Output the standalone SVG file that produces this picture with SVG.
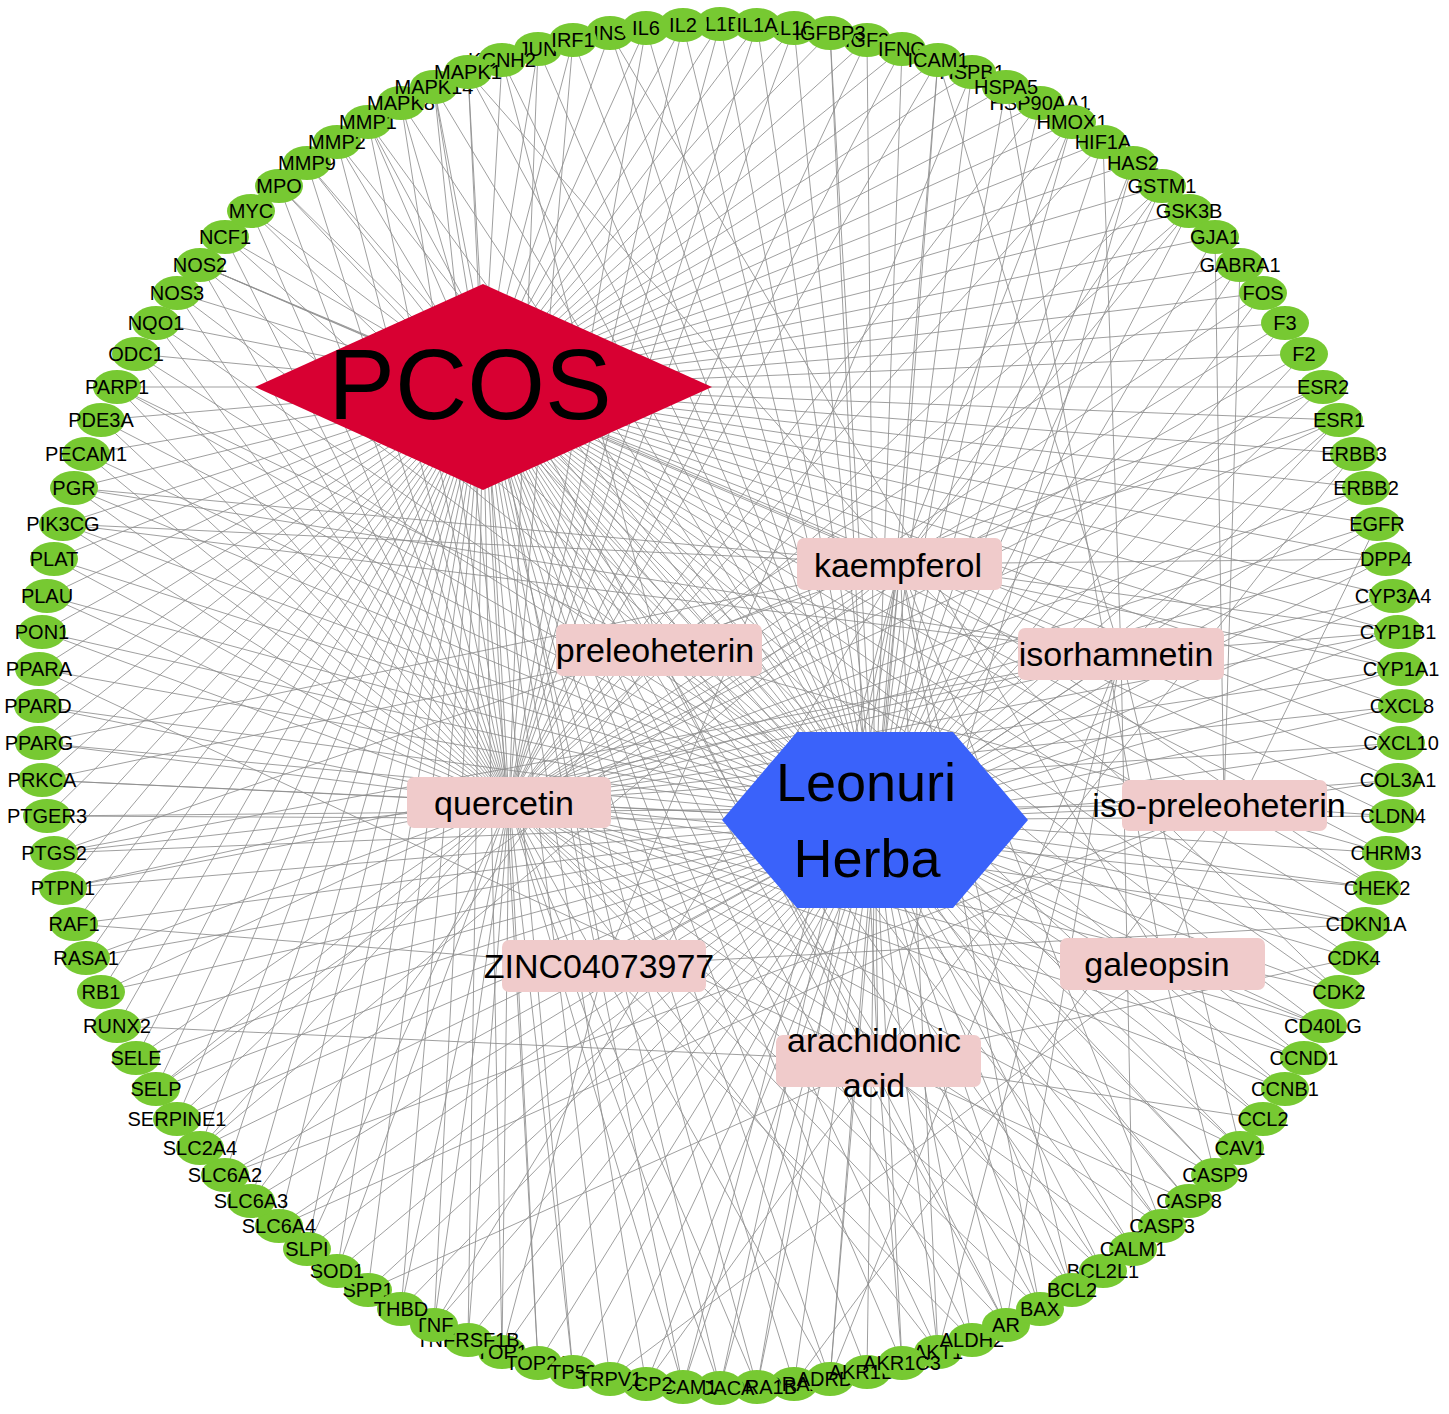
<svg xmlns="http://www.w3.org/2000/svg" width="1449" height="1414" viewBox="0 0 1449 1414">
<style>
.e{stroke:#8e8e8e;stroke-width:0.85;fill:none}
.t ellipse{fill:#77c932}
.t text{font-family:"Liberation Sans",Arial,sans-serif;font-size:20px;text-anchor:middle;fill:#000}
.c rect{fill:#f0cbcb}
.c text{font-family:"Liberation Sans",Arial,sans-serif;font-size:34px;text-anchor:middle;fill:#000}
</style>
<rect width="1449" height="1414" fill="#fff"/>
<g id="edges">
<path class="e" d="M720 1388L483 387M757 1387L483 387M794 1384L483 387M830 1379L483 387M867 1372L483 387M902 1363L483 387M938 1352L483 387M972 1340L483 387M1006 1325L483 387M1040 1309L483 387M1072 1290L483 387M1103 1271L483 387M1133 1249L483 387M1162 1226L483 387M1189 1201L483 387M1215 1175L483 387M1240 1148L483 387M1263 1119L483 387M1285 1089L483 387M1304 1058L483 387M1323 1026L483 387M1339 992L483 387M1354 958L483 387M1366 924L483 387M1377 888L483 387M1386 853L483 387M1393 816L483 387M1398 780L483 387M1401 743L483 387M1402 706L483 387M1401 669L483 387M1398 632L483 387M1393 596L483 387M1386 559L483 387M1377 524L483 387M1366 488L483 387M1354 454L483 387M1339 420L483 387M1323 387L483 387M1304 354L483 387M1285 323L483 387M1263 293L483 387M1240 265L483 387M1215 237L483 387M1189 211L483 387M1162 186L483 387M1133 163L483 387M1103 142L483 387M1072 122L483 387M1040 103L483 387M1006 87L483 387M972 72L483 387M938 60L483 387M902 49L483 387M867 40L483 387M830 33L483 387M794 28L483 387M757 25L483 387M720 24L483 387M683 25L483 387M646 28L483 387M610 33L483 387M573 40L483 387M538 49L483 387M502 60L483 387M468 72L483 387M434 87L483 387M401 103L483 387M368 122L483 387M337 142L483 387M307 163L483 387M279 186L483 387M251 211L483 387M225 237L483 387M200 265L483 387M177 293L483 387M156 323L483 387M136 354L483 387M117 387L483 387M101 420L483 387M86 454L483 387M74 488L483 387M63 524L483 387M54 559L483 387M47 596L483 387M42 632L483 387M39 669L483 387M38 706L483 387M39 743L483 387M42 780L483 387M47 816L483 387M54 853L483 387M63 888L483 387M74 924L483 387M86 958L483 387M101 992L483 387M117 1026L483 387M136 1058L483 387M156 1089L483 387M177 1119L483 387M200 1148L483 387M225 1175L483 387M251 1201L483 387M279 1226L483 387M307 1249L483 387M337 1271L483 387M368 1290L483 387M401 1309L483 387M434 1325L483 387M468 1340L483 387M502 1352L483 387M538 1363L483 387M573 1372L483 387M610 1379L483 387M646 1384L483 387M683 1387L483 387"/>
<path class="e" d="M720 1388L875 820M757 1387L875 820M794 1384L875 820M830 1379L875 820M867 1372L875 820M902 1363L875 820M938 1352L875 820M972 1340L875 820M1006 1325L875 820M1040 1309L875 820M1072 1290L875 820M1103 1271L875 820M1133 1249L875 820M1162 1226L875 820M1189 1201L875 820M1215 1175L875 820M1240 1148L875 820M1263 1119L875 820M1285 1089L875 820M1304 1058L875 820M1323 1026L875 820M1339 992L875 820M1354 958L875 820M1366 924L875 820M1377 888L875 820M1386 853L875 820M1393 816L875 820M1398 780L875 820M1401 743L875 820M1402 706L875 820M1401 669L875 820M1398 632L875 820M1393 596L875 820M1386 559L875 820M1377 524L875 820M1366 488L875 820M1354 454L875 820M1339 420L875 820M1323 387L875 820M1304 354L875 820M1285 323L875 820M1263 293L875 820M1240 265L875 820M1215 237L875 820M1189 211L875 820M1162 186L875 820M1133 163L875 820M1103 142L875 820M1072 122L875 820M1040 103L875 820M1006 87L875 820M972 72L875 820M938 60L875 820M902 49L875 820M867 40L875 820M830 33L875 820M794 28L875 820M757 25L875 820M720 24L875 820M683 25L875 820M646 28L875 820M610 33L875 820M573 40L875 820M538 49L875 820M502 60L875 820M468 72L875 820M434 87L875 820M401 103L875 820M368 122L875 820M337 142L875 820M307 163L875 820M279 186L875 820M251 211L875 820M225 237L875 820M200 265L875 820M177 293L875 820M156 323L875 820M136 354L875 820M117 387L875 820M101 420L875 820M86 454L875 820M74 488L875 820M63 524L875 820M54 559L875 820M47 596L875 820M42 632L875 820M39 669L875 820M38 706L875 820M39 743L875 820M42 780L875 820M47 816L875 820M54 853L875 820M63 888L875 820M74 924L875 820M86 958L875 820M101 992L875 820M117 1026L875 820M136 1058L875 820M156 1089L875 820M177 1119L875 820M200 1148L875 820M225 1175L875 820M251 1201L875 820M279 1226L875 820M307 1249L875 820M337 1271L875 820M368 1290L875 820M401 1309L875 820M434 1325L875 820M468 1340L875 820M502 1352L875 820M538 1363L875 820M573 1372L875 820M610 1379L875 820M646 1384L875 820M683 1387L875 820"/>
<path class="e" d="M720 1388L509 802M757 1387L509 802M830 1379L509 802M938 1352L509 802M1006 1325L509 802M1040 1309L509 802M1072 1290L509 802M1133 1249L509 802M1162 1226L509 802M1215 1175L509 802M1240 1148L509 802M1285 1089L509 802M1304 1058L509 802M1323 1026L509 802M1339 992L509 802M1366 924L509 802M1377 888L509 802M1401 743L509 802M1402 706L509 802M1401 669L509 802M1398 632L509 802M1393 596L509 802M1386 559L509 802M1377 524L509 802M1366 488L509 802M1339 420L509 802M1323 387L509 802M1304 354L509 802M1285 323L509 802M1263 293L509 802M1189 211L509 802M1162 186L509 802M1103 142L509 802M1072 122L509 802M1040 103L509 802M938 60L509 802M902 49L509 802M867 40L509 802M794 28L509 802M757 25L509 802M720 24L509 802M683 25L509 802M646 28L509 802M573 40L509 802M538 49L509 802M468 72L509 802M434 87L509 802M401 103L509 802M368 122L509 802M337 142L509 802M307 163L509 802M279 186L509 802M251 211L509 802M225 237L509 802M200 265L509 802M177 293L509 802M156 323L509 802M136 354L509 802M117 387L509 802M101 420L509 802M86 454L509 802M74 488L509 802M63 524L509 802M54 559L509 802M47 596L509 802M42 632L509 802M38 706L509 802M39 743L509 802M42 780L509 802M54 853L509 802M63 888L509 802M86 958L509 802M101 992L509 802M136 1058L509 802M156 1089L509 802M177 1119L509 802M200 1148L509 802M307 1249L509 802M337 1271L509 802M401 1309L509 802M434 1325L509 802M468 1340L509 802M502 1352L509 802M538 1363L509 802M573 1372L509 802M683 1387L509 802"/>
<path class="e" d="M720 1388L900 564M757 1387L900 564M830 1379L900 564M938 1352L900 564M1040 1309L900 564M1072 1290L900 564M1162 1226L900 564M1339 992L900 564M1377 888L900 564M1401 669L900 564M1398 632L900 564M1386 559L900 564M1339 420L900 564M1189 211L900 564M1162 186L900 564M1072 122L900 564M938 60L900 564M468 72L900 564M200 265L900 564M74 488L900 564M63 524L900 564M39 743L900 564M54 853L900 564M156 1089L900 564M200 1148L900 564M434 1325L900 564M683 1387L900 564"/>
<path class="e" d="M830 1379L1121 654M938 1352L1121 654M1006 1325L1121 654M1133 1249L1121 654M1240 1148L1121 654M1398 632L1121 654M1339 420L1121 654M1103 142L1121 654M938 60L1121 654M200 265L1121 654M74 488L1121 654M63 524L1121 654M54 853L1121 654M63 888L1121 654"/>
<path class="e" d="M1006 1325L659 650M1386 853L659 650M1323 387L659 650M1240 265L659 650M502 60L659 650M117 387L659 650M42 780L659 650M251 1201L659 650"/>
<path class="e" d="M794 1384L1224 805M1393 816L1224 805M1398 780L1224 805M1240 265L1224 805M1215 237L1224 805M47 816L1224 805M225 1175L1224 805M279 1226L1224 805"/>
<path class="e" d="M1215 1175L1162 964M1323 1026L1162 964M1377 524L1162 964M1006 87L1162 964M610 33L1162 964M610 1379L1162 964"/>
<path class="e" d="M972 1340L604 966M1366 924L604 966M972 72L604 966M434 87L604 966M74 924L604 966M502 1352L604 966"/>
<path class="e" d="M902 1363L878 1061M1103 1271L878 1061M1189 1201L878 1061M1263 1119L878 1061M1354 958L878 1061M1354 454L878 1061M1133 163L878 1061M830 33L878 1061M368 122L878 1061M39 669L878 1061M117 1026L878 1061M368 1290L878 1061M646 1384L878 1061"/>
<path class="e" d="M875 820L900 564M875 820L659 650M875 820L1121 654M875 820L509 802M875 820L1224 805M875 820L604 966M875 820L1162 964M875 820L878 1061"/>
</g>
<g id="n-PCOS"><polygon points="255,387 483,284 712,387 483,490" fill="#d80032"/><text x="470" y="419" font-family="Liberation Sans, Arial, sans-serif" font-size="100" text-anchor="middle">PCOS</text></g>
<g id="n-Leonuri-Herba"><polygon points="722,820 797,732 953,732 1028,820 953,908 797,908" fill="#3a62fa"/><text font-family="Liberation Sans, Arial, sans-serif" font-size="54" text-anchor="middle"><tspan x="866" y="801">Leonuri</tspan><tspan x="867" y="877">Herba</tspan></text></g>
<g id="n-kaempferol" class="c"><rect x="797" y="538" width="205" height="52" rx="7"/><text x="898" y="577">kaempferol</text></g>
<g id="n-preleoheterin" class="c"><rect x="556" y="624" width="206" height="52" rx="7"/><text x="655" y="662">preleoheterin</text></g>
<g id="n-isorhamnetin" class="c"><rect x="1018" y="628" width="206" height="52" rx="7"/><text x="1116" y="666">isorhamnetin</text></g>
<g id="n-quercetin" class="c"><rect x="407" y="777" width="204" height="51" rx="7"/><text x="504" y="815">quercetin</text></g>
<g id="n-iso-preleoheterin" class="c"><rect x="1122" y="780" width="205" height="51" rx="7"/><text x="1219" y="817">iso-preleoheterin</text></g>
<g id="n-ZINC04073977" class="c"><rect x="502" y="940" width="204" height="52" rx="7"/><text x="599" y="978">ZINC04073977</text></g>
<g id="n-galeopsin" class="c"><rect x="1060" y="938" width="205" height="52" rx="7"/><text x="1157" y="976">galeopsin</text></g>
<g id="n-arachidonic-acid" class="c"><rect x="776" y="1035" width="205" height="52" rx="7"/><text x="874" y="1052">arachidonic</text><text x="874" y="1097">acid</text></g>
<g id="n-SPP1" class="t"><ellipse cx="368" cy="1290" rx="24" ry="17"/><text x="368" y="1297">SPP1</text></g>
<g id="n-SOD1" class="t"><ellipse cx="337" cy="1271" rx="24" ry="17"/><text x="337" y="1278">SOD1</text></g>
<g id="n-SLPI" class="t"><ellipse cx="307" cy="1249" rx="24" ry="17"/><text x="307" y="1256">SLPI</text></g>
<g id="n-SLC6A4" class="t"><ellipse cx="279" cy="1226" rx="24" ry="17"/><text x="279" y="1233">SLC6A4</text></g>
<g id="n-SLC6A3" class="t"><ellipse cx="251" cy="1201" rx="24" ry="17"/><text x="251" y="1208">SLC6A3</text></g>
<g id="n-SLC6A2" class="t"><ellipse cx="225" cy="1175" rx="24" ry="17"/><text x="225" y="1182">SLC6A2</text></g>
<g id="n-SLC2A4" class="t"><ellipse cx="200" cy="1148" rx="24" ry="17"/><text x="200" y="1155">SLC2A4</text></g>
<g id="n-SERPINE1" class="t"><ellipse cx="177" cy="1119" rx="24" ry="17"/><text x="177" y="1126">SERPINE1</text></g>
<g id="n-SELP" class="t"><ellipse cx="156" cy="1089" rx="24" ry="17"/><text x="156" y="1096">SELP</text></g>
<g id="n-SELE" class="t"><ellipse cx="136" cy="1058" rx="24" ry="17"/><text x="136" y="1065">SELE</text></g>
<g id="n-RUNX2" class="t"><ellipse cx="117" cy="1026" rx="24" ry="17"/><text x="117" y="1033">RUNX2</text></g>
<g id="n-RB1" class="t"><ellipse cx="101" cy="992" rx="24" ry="17"/><text x="101" y="999">RB1</text></g>
<g id="n-RASA1" class="t"><ellipse cx="86" cy="958" rx="24" ry="17"/><text x="86" y="965">RASA1</text></g>
<g id="n-RAF1" class="t"><ellipse cx="74" cy="924" rx="24" ry="17"/><text x="74" y="931">RAF1</text></g>
<g id="n-PTPN1" class="t"><ellipse cx="63" cy="888" rx="24" ry="17"/><text x="63" y="895">PTPN1</text></g>
<g id="n-PTGS2" class="t"><ellipse cx="54" cy="853" rx="24" ry="17"/><text x="54" y="860">PTGS2</text></g>
<g id="n-PTGER3" class="t"><ellipse cx="47" cy="816" rx="24" ry="17"/><text x="47" y="823">PTGER3</text></g>
<g id="n-PRKCA" class="t"><ellipse cx="42" cy="780" rx="24" ry="17"/><text x="42" y="787">PRKCA</text></g>
<g id="n-PPARG" class="t"><ellipse cx="39" cy="743" rx="24" ry="17"/><text x="39" y="750">PPARG</text></g>
<g id="n-PPARD" class="t"><ellipse cx="38" cy="706" rx="24" ry="17"/><text x="38" y="713">PPARD</text></g>
<g id="n-PPARA" class="t"><ellipse cx="39" cy="669" rx="24" ry="17"/><text x="39" y="676">PPARA</text></g>
<g id="n-PON1" class="t"><ellipse cx="42" cy="632" rx="24" ry="17"/><text x="42" y="639">PON1</text></g>
<g id="n-PLAU" class="t"><ellipse cx="47" cy="596" rx="24" ry="17"/><text x="47" y="603">PLAU</text></g>
<g id="n-PLAT" class="t"><ellipse cx="54" cy="559" rx="24" ry="17"/><text x="54" y="566">PLAT</text></g>
<g id="n-PIK3CG" class="t"><ellipse cx="63" cy="524" rx="24" ry="17"/><text x="63" y="531">PIK3CG</text></g>
<g id="n-PGR" class="t"><ellipse cx="74" cy="488" rx="24" ry="17"/><text x="74" y="495">PGR</text></g>
<g id="n-PECAM1" class="t"><ellipse cx="86" cy="454" rx="24" ry="17"/><text x="86" y="461">PECAM1</text></g>
<g id="n-PDE3A" class="t"><ellipse cx="101" cy="420" rx="24" ry="17"/><text x="101" y="427">PDE3A</text></g>
<g id="n-PARP1" class="t"><ellipse cx="117" cy="387" rx="24" ry="17"/><text x="117" y="394">PARP1</text></g>
<g id="n-ODC1" class="t"><ellipse cx="136" cy="354" rx="24" ry="17"/><text x="136" y="361">ODC1</text></g>
<g id="n-NQO1" class="t"><ellipse cx="156" cy="323" rx="24" ry="17"/><text x="156" y="330">NQO1</text></g>
<g id="n-NOS3" class="t"><ellipse cx="177" cy="293" rx="24" ry="17"/><text x="177" y="300">NOS3</text></g>
<g id="n-NOS2" class="t"><ellipse cx="200" cy="265" rx="24" ry="17"/><text x="200" y="272">NOS2</text></g>
<g id="n-NCF1" class="t"><ellipse cx="225" cy="237" rx="24" ry="17"/><text x="225" y="244">NCF1</text></g>
<g id="n-MYC" class="t"><ellipse cx="251" cy="211" rx="24" ry="17"/><text x="251" y="218">MYC</text></g>
<g id="n-MPO" class="t"><ellipse cx="279" cy="186" rx="24" ry="17"/><text x="279" y="193">MPO</text></g>
<g id="n-MMP9" class="t"><ellipse cx="307" cy="163" rx="24" ry="17"/><text x="307" y="170">MMP9</text></g>
<g id="n-MMP2" class="t"><ellipse cx="337" cy="142" rx="24" ry="17"/><text x="337" y="149">MMP2</text></g>
<g id="n-MMP1" class="t"><ellipse cx="368" cy="122" rx="24" ry="17"/><text x="368" y="129">MMP1</text></g>
<g id="n-MAPK8" class="t"><ellipse cx="401" cy="103" rx="24" ry="17"/><text x="401" y="110">MAPK8</text></g>
<g id="n-MAPK14" class="t"><ellipse cx="434" cy="87" rx="24" ry="17"/><text x="434" y="94">MAPK14</text></g>
<g id="n-JUN" class="t"><ellipse cx="538" cy="49" rx="24" ry="17"/><text x="538" y="56">JUN</text></g>
<g id="n-KCNH2" class="t"><ellipse cx="502" cy="60" rx="24" ry="17"/><text x="502" y="67">KCNH2</text></g>
<g id="n-MAPK1" class="t"><ellipse cx="468" cy="72" rx="24" ry="17"/><text x="468" y="79">MAPK1</text></g>
<g id="n-INS" class="t"><ellipse cx="610" cy="33" rx="24" ry="17"/><text x="610" y="40">INS</text></g>
<g id="n-IRF1" class="t"><ellipse cx="573" cy="40" rx="24" ry="17"/><text x="573" y="47">IRF1</text></g>
<g id="n-IL6" class="t"><ellipse cx="646" cy="28" rx="24" ry="17"/><text x="646" y="35">IL6</text></g>
<g id="n-IL1B" class="t"><ellipse cx="720" cy="24" rx="24" ry="17"/><text x="720" y="31">IL1B</text></g>
<g id="n-IL10" class="t"><ellipse cx="794" cy="28" rx="24" ry="17"/><text x="794" y="35">IL10</text></g>
<g id="n-IGF2" class="t"><ellipse cx="867" cy="40" rx="24" ry="17"/><text x="867" y="47">IGF2</text></g>
<g id="n-IFNG" class="t"><ellipse cx="902" cy="49" rx="24" ry="17"/><text x="902" y="56">IFNG</text></g>
<g id="n-HSPB1" class="t"><ellipse cx="972" cy="72" rx="24" ry="17"/><text x="972" y="79">HSPB1</text></g>
<g id="n-HSP90AA1" class="t"><ellipse cx="1040" cy="103" rx="24" ry="17"/><text x="1040" y="110">HSP90AA1</text></g>
<g id="n-HMOX1" class="t"><ellipse cx="1072" cy="122" rx="24" ry="17"/><text x="1072" y="129">HMOX1</text></g>
<g id="n-HIF1A" class="t"><ellipse cx="1103" cy="142" rx="24" ry="17"/><text x="1103" y="149">HIF1A</text></g>
<g id="n-HAS2" class="t"><ellipse cx="1133" cy="163" rx="24" ry="17"/><text x="1133" y="170">HAS2</text></g>
<g id="n-GSTM1" class="t"><ellipse cx="1162" cy="186" rx="24" ry="17"/><text x="1162" y="193">GSTM1</text></g>
<g id="n-GSK3B" class="t"><ellipse cx="1189" cy="211" rx="24" ry="17"/><text x="1189" y="218">GSK3B</text></g>
<g id="n-GJA1" class="t"><ellipse cx="1215" cy="237" rx="24" ry="17"/><text x="1215" y="244">GJA1</text></g>
<g id="n-GABRA1" class="t"><ellipse cx="1240" cy="265" rx="24" ry="17"/><text x="1240" y="272">GABRA1</text></g>
<g id="n-FOS" class="t"><ellipse cx="1263" cy="293" rx="24" ry="17"/><text x="1263" y="300">FOS</text></g>
<g id="n-F3" class="t"><ellipse cx="1285" cy="323" rx="24" ry="17"/><text x="1285" y="330">F3</text></g>
<g id="n-F2" class="t"><ellipse cx="1304" cy="354" rx="24" ry="17"/><text x="1304" y="361">F2</text></g>
<g id="n-ESR2" class="t"><ellipse cx="1323" cy="387" rx="24" ry="17"/><text x="1323" y="394">ESR2</text></g>
<g id="n-ESR1" class="t"><ellipse cx="1339" cy="420" rx="24" ry="17"/><text x="1339" y="427">ESR1</text></g>
<g id="n-ERBB3" class="t"><ellipse cx="1354" cy="454" rx="24" ry="17"/><text x="1354" y="461">ERBB3</text></g>
<g id="n-ERBB2" class="t"><ellipse cx="1366" cy="488" rx="24" ry="17"/><text x="1366" y="495">ERBB2</text></g>
<g id="n-EGFR" class="t"><ellipse cx="1377" cy="524" rx="24" ry="17"/><text x="1377" y="531">EGFR</text></g>
<g id="n-DPP4" class="t"><ellipse cx="1386" cy="559" rx="24" ry="17"/><text x="1386" y="566">DPP4</text></g>
<g id="n-CYP3A4" class="t"><ellipse cx="1393" cy="596" rx="24" ry="17"/><text x="1393" y="603">CYP3A4</text></g>
<g id="n-CYP1B1" class="t"><ellipse cx="1398" cy="632" rx="24" ry="17"/><text x="1398" y="639">CYP1B1</text></g>
<g id="n-CYP1A1" class="t"><ellipse cx="1401" cy="669" rx="24" ry="17"/><text x="1401" y="676">CYP1A1</text></g>
<g id="n-CXCL8" class="t"><ellipse cx="1402" cy="706" rx="24" ry="17"/><text x="1402" y="713">CXCL8</text></g>
<g id="n-CXCL10" class="t"><ellipse cx="1401" cy="743" rx="24" ry="17"/><text x="1401" y="750">CXCL10</text></g>
<g id="n-COL3A1" class="t"><ellipse cx="1398" cy="780" rx="24" ry="17"/><text x="1398" y="787">COL3A1</text></g>
<g id="n-CLDN4" class="t"><ellipse cx="1393" cy="816" rx="24" ry="17"/><text x="1393" y="823">CLDN4</text></g>
<g id="n-CHRM3" class="t"><ellipse cx="1386" cy="853" rx="24" ry="17"/><text x="1386" y="860">CHRM3</text></g>
<g id="n-CHEK2" class="t"><ellipse cx="1377" cy="888" rx="24" ry="17"/><text x="1377" y="895">CHEK2</text></g>
<g id="n-CDKN1A" class="t"><ellipse cx="1366" cy="924" rx="24" ry="17"/><text x="1366" y="931">CDKN1A</text></g>
<g id="n-CDK4" class="t"><ellipse cx="1354" cy="958" rx="24" ry="17"/><text x="1354" y="965">CDK4</text></g>
<g id="n-CDK2" class="t"><ellipse cx="1339" cy="992" rx="24" ry="17"/><text x="1339" y="999">CDK2</text></g>
<g id="n-CD40LG" class="t"><ellipse cx="1323" cy="1026" rx="24" ry="17"/><text x="1323" y="1033">CD40LG</text></g>
<g id="n-CCND1" class="t"><ellipse cx="1304" cy="1058" rx="24" ry="17"/><text x="1304" y="1065">CCND1</text></g>
<g id="n-CCNB1" class="t"><ellipse cx="1285" cy="1089" rx="24" ry="17"/><text x="1285" y="1096">CCNB1</text></g>
<g id="n-CCL2" class="t"><ellipse cx="1263" cy="1119" rx="24" ry="17"/><text x="1263" y="1126">CCL2</text></g>
<g id="n-CAV1" class="t"><ellipse cx="1240" cy="1148" rx="24" ry="17"/><text x="1240" y="1155">CAV1</text></g>
<g id="n-CASP9" class="t"><ellipse cx="1215" cy="1175" rx="24" ry="17"/><text x="1215" y="1182">CASP9</text></g>
<g id="n-CASP8" class="t"><ellipse cx="1189" cy="1201" rx="24" ry="17"/><text x="1189" y="1208">CASP8</text></g>
<g id="n-CASP3" class="t"><ellipse cx="1162" cy="1226" rx="24" ry="17"/><text x="1162" y="1233">CASP3</text></g>
<g id="n-ADRA2A" class="t"><ellipse cx="794" cy="1384" rx="24" ry="17"/><text x="794" y="1391">ADRA2A</text></g>
<g id="n-ADRB2" class="t"><ellipse cx="830" cy="1379" rx="24" ry="17"/><text x="830" y="1386">ADRB2</text></g>
<g id="n-ADRA1B" class="t"><ellipse cx="757" cy="1387" rx="24" ry="17"/><text x="757" y="1394">ADRA1B</text></g>
<g id="n-ACACA" class="t"><ellipse cx="720" cy="1388" rx="24" ry="17"/><text x="720" y="1395">ACACA</text></g>
<g id="n-VCAM1" class="t"><ellipse cx="683" cy="1387" rx="24" ry="17"/><text x="683" y="1394">VCAM1</text></g>
<g id="n-UCP2" class="t"><ellipse cx="646" cy="1384" rx="24" ry="17"/><text x="646" y="1391">UCP2</text></g>
<g id="n-TOP1" class="t"><ellipse cx="502" cy="1352" rx="24" ry="17"/><text x="502" y="1359">TOP1</text></g>
<g id="n-TNFRSF1B" class="t"><ellipse cx="468" cy="1340" rx="24" ry="17"/><text x="468" y="1347">TNFRSF1B</text></g>
<g id="n-TNF" class="t"><ellipse cx="434" cy="1325" rx="24" ry="17"/><text x="434" y="1332">TNF</text></g>
<g id="n-THBD" class="t"><ellipse cx="401" cy="1309" rx="24" ry="17"/><text x="401" y="1316">THBD</text></g>
<g id="n-TOP2A" class="t"><ellipse cx="538" cy="1363" rx="24" ry="17"/><text x="538" y="1370">TOP2A</text></g>
<g id="n-TP53" class="t"><ellipse cx="573" cy="1372" rx="24" ry="17"/><text x="573" y="1379">TP53</text></g>
<g id="n-TRPV1" class="t"><ellipse cx="610" cy="1379" rx="24" ry="17"/><text x="610" y="1386">TRPV1</text></g>
<g id="n-AKR1B1" class="t"><ellipse cx="867" cy="1372" rx="24" ry="17"/><text x="867" y="1379">AKR1B1</text></g>
<g id="n-AKT1" class="t"><ellipse cx="938" cy="1352" rx="24" ry="17"/><text x="938" y="1359">AKT1</text></g>
<g id="n-AKR1C3" class="t"><ellipse cx="902" cy="1363" rx="24" ry="17"/><text x="902" y="1370">AKR1C3</text></g>
<g id="n-ALDH2" class="t"><ellipse cx="972" cy="1340" rx="24" ry="17"/><text x="972" y="1347">ALDH2</text></g>
<g id="n-AR" class="t"><ellipse cx="1006" cy="1325" rx="24" ry="17"/><text x="1006" y="1332">AR</text></g>
<g id="n-BAX" class="t"><ellipse cx="1040" cy="1309" rx="24" ry="17"/><text x="1040" y="1316">BAX</text></g>
<g id="n-BCL2L1" class="t"><ellipse cx="1103" cy="1271" rx="24" ry="17"/><text x="1103" y="1278">BCL2L1</text></g>
<g id="n-BCL2" class="t"><ellipse cx="1072" cy="1290" rx="24" ry="17"/><text x="1072" y="1297">BCL2</text></g>
<g id="n-CALM1" class="t"><ellipse cx="1133" cy="1249" rx="24" ry="17"/><text x="1133" y="1256">CALM1</text></g>
<g id="n-IL2" class="t"><ellipse cx="683" cy="25" rx="24" ry="17"/><text x="683" y="32">IL2</text></g>
<g id="n-IL1A" class="t"><ellipse cx="757" cy="25" rx="24" ry="17"/><text x="757" y="32">IL1A</text></g>
<g id="n-IGFBP3" class="t"><ellipse cx="830" cy="33" rx="24" ry="17"/><text x="830" y="40">IGFBP3</text></g>
<g id="n-ICAM1" class="t"><ellipse cx="938" cy="60" rx="24" ry="17"/><text x="938" y="67">ICAM1</text></g>
<g id="n-HSPA5" class="t"><ellipse cx="1006" cy="87" rx="24" ry="17"/><text x="1006" y="94">HSPA5</text></g>
</svg>
